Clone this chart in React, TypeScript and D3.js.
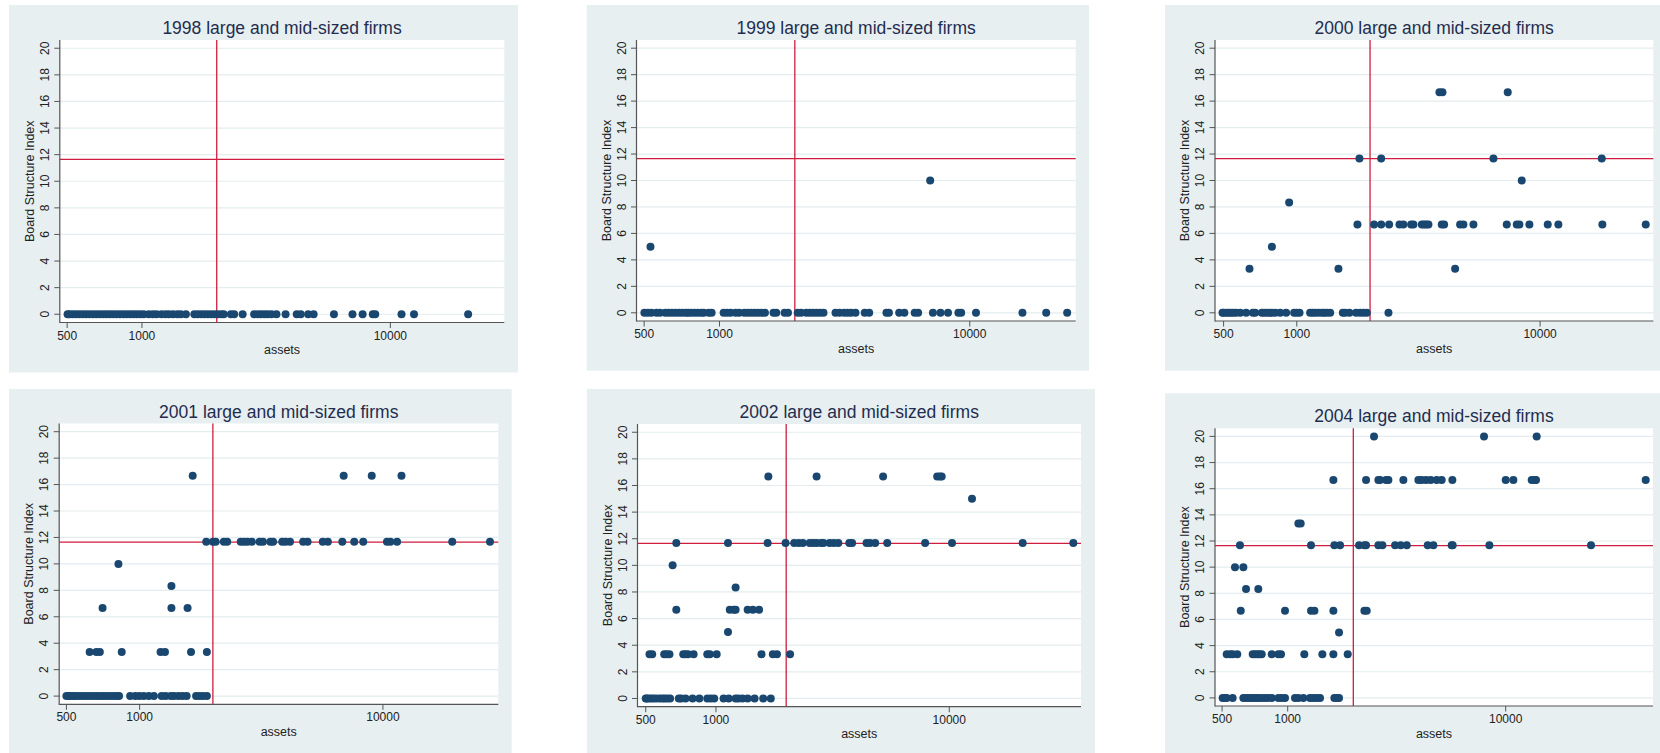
import * as d3 from "d3";

const FONT = "'Liberation Sans', Arial, Helvetica, sans-serif";
const BG = "#e7eff1";
const GRID = "#e3ecee";
const NAVY = "#1a476f";
const RED = "#cf1d3f";

// axis ticks and reference lines
const yTicks = [0, 2, 4, 6, 8, 10, 12, 14, 16, 18, 20];
const xTicks = [500, 1000, 10000];
const refAssets = 2000;
const refIndex = 11.65;

// data: [board structure index, assets of each firm at that level]
const firms1998: [number, number[]][] = [
  [0, [502, 510, 526, 543, 560, 578, 596, 615, 635, 655, 676, 698, 720, 743, 766, 791, 816, 842, 869, 896, 925, 954, 985, 1016, 1065, 1106, 1144, 1199, 1245, 1285, 1334, 1390, 1433, 1503, 1625, 1676, 1730, 1785, 1842, 1901, 1961, 2023, 2088, 2134, 2280, 2351, 2543, 2829, 2920, 3013, 3109, 3208, 3320, 3479, 3786, 4198, 4357, 4668, 4910, 5927, 7040, 7732, 8497, 8690, 11090, 12450, 20560]],
];

const firms1999: [number, number[]][] = [
  [0, [501, 517, 534, 560, 578, 607, 626, 646, 667, 689, 710, 733, 750, 769, 794, 819, 846, 865, 906, 930, 1039, 1072, 1107, 1160, 1198, 1256, 1297, 1338, 1381, 1426, 1472, 1519, 1644, 1686, 1820, 1878, 2053, 2118, 2222, 2293, 2366, 2442, 2522, 2603, 2908, 3020, 3147, 3248, 3353, 3494, 3804, 3964, 4645, 4753, 5224, 5479, 6025, 6218, 7124, 7638, 8186, 9006, 9240, 10588, 16235, 20200, 24500]],
  [5, [530]],
  [10, [6947]],
];

const firms2000: [number, number[]][] = [
  [0, [495, 500, 513, 524, 536, 549, 563, 585, 619, 660, 674, 718, 734, 753, 773, 790, 815, 854, 904, 975, 1000, 1026, 1134, 1163, 1190, 1227, 1267, 1295, 1328, 1371, 1546, 1580, 1646, 1753, 1820, 1879, 1940, 2381]],
  [3.33, [639, 1483, 4474]],
  [5, [790]],
  [6.67, [1775, 2078, 2222, 2396, 2642, 2742, 2951, 3016, 3265, 3337, 3401, 3476, 3943, 4032, 4690, 4840, 5321, 7295, 8017, 8222, 9037, 10752, 11890, 18030, 27180]],
  [8.33, [930]],
  [10, [8408]],
  [11.67, [1809, 2222, 6430, 17926]],
  [16.67, [3857, 3969, 7362]],
];

const firms2001: [number, number[]][] = [
  [0, [500, 509, 522, 536, 548, 566, 584, 603, 623, 643, 664, 686, 708, 731, 755, 779, 805, 823, 914, 959, 997, 1039, 1090, 1144, 1231, 1279, 1342, 1386, 1445, 1501, 1560, 1706, 1762, 1819, 1889]],
  [3.33, [623, 664, 686, 844, 1219, 1271, 1626, 1889]],
  [6.67, [704, 1351, 1574]],
  [8.33, [1351]],
  [10, [818]],
  [11.67, [1878, 2001, 2053, 2218, 2290, 2603, 2687, 2773, 2892, 3112, 3213, 3447, 3536, 3857, 3981, 4150, 4699, 4900, 5657, 5937, 6809, 7621, 8300, 10390, 10730, 11430, 19270, 27550]],
  [16.67, [1652, 6897, 8995, 11920]],
];

const firms2002: [number, number[]][] = [
  [0, [500, 505, 515, 528, 540, 555, 574, 590, 604, 619, 636, 693, 709, 741, 794, 849, 918, 950, 983, 1078, 1134, 1214, 1247, 1299, 1367, 1464, 1594, 1718]],
  [3.33, [519, 533, 600, 615, 632, 724, 741, 759, 802, 918, 941, 1007, 1567, 1753, 1826, 2078]],
  [5, [1126]],
  [6.67, [676, 1146, 1193, 1214, 1367, 1439, 1530]],
  [8.33, [1214]],
  [10, [652]],
  [11.67, [676, 1126, 1665, 1988, 2164, 2262, 2356, 2522, 2610, 2700, 2822, 2890, 3072, 3200, 3345, 3729, 3833, 4421, 4574, 4813, 5422, 7881, 10276, 20640, 34020]],
  [15, [12516]],
  [16.67, [1677, 2700, 5205, 8874, 9120, 9280]],
];

const firms2004: [number, number[]][] = [
  [0, [503, 516, 525, 559, 626, 644, 660, 677, 696, 716, 733, 760, 787, 815, 845, 906, 939, 972, 1080, 1119, 1180, 1266, 1311, 1358, 1407, 1637, 1678, 1720]],
  [3.33, [525, 544, 559, 587, 691, 708, 726, 741, 760, 845, 906, 932, 1192, 1442, 1620, 1885]],
  [5, [1720]],
  [6.67, [609, 972, 1279, 1326, 1620, 2248, 2304]],
  [8.33, [644, 733]],
  [10, [573, 626]],
  [11.67, [604, 1279, 1637, 1739, 2125, 2248, 2288, 2606, 2719, 3108, 3299, 3516, 4388, 4659, 5652, 5713, 8418, 24630]],
  [13.33, [1119, 1147]],
  [16.67, [1620, 2288, 2606, 2652, 2826, 2897, 3394, 3976, 4119, 4312, 4529, 4826, 5087, 5693, 10000, 10843, 13160, 13535, 13775, 43880]],
  [20, [2489, 7955, 13874]],
];

// layout of the six combined graphs
type PanelSpec = {
  year: string;
  data: [number, number[]][];
  bg: number[];
  plot: number[];
  xDomain: number[];
};

const panels: PanelSpec[] = [
  { year: "1998", data: firms1998, bg: [9, 5, 518, 372.5], plot: [59.8, 40, 504.3, 322.5], xDomain: [467, 28750] },
  { year: "1999", data: firms1999, bg: [586.7, 5, 1089, 370.7], plot: [636.5, 40, 1075.7, 321], xDomain: [466, 26500] },
  { year: "2000", data: firms2000, bg: [1165, 5, 1660, 370.7], plot: [1215, 40, 1653.3, 321], xDomain: [461, 29200] },
  { year: "2001", data: firms2001, bg: [9, 389, 511.7, 753], plot: [59.2, 423.5, 498.3, 704.3], xDomain: [467, 29800] },
  { year: "2002", data: firms2002, bg: [587, 389, 1095, 753], plot: [637.5, 424, 1081, 706.7], xDomain: [461, 36700] },
  { year: "2004", data: firms2004, bg: [1165, 393.3, 1660, 753], plot: [1215, 428.3, 1653, 706], xDomain: [464, 47400] },
];

const yDomain = [-0.62, 20.62];

function Panel({ p }: { p: PanelSpec }) {
  const [bx0, by0, bx1, by1] = p.bg;
  const [L, T, R, B] = p.plot;
  const x = d3.scaleLog().domain(p.xDomain).range([L, R]);
  const y = d3.scaleLinear().domain(yDomain).range([B, T]);
  const pts = p.data.flatMap(([lvl, arr]) => arr.map((a) => [a, lvl]));
  const cx = (L + R) / 2;
  const cy = (T + B) / 2;

  return (
    <g fontFamily={FONT}>
      <rect x={bx0} y={by0} width={bx1 - bx0} height={by1 - by0} fill={BG} />
      <rect x={L} y={T} width={R - L} height={B - T} fill="#fff" />

      {/* grid */}
      {yTicks.map((t) => (
        <line key={"g" + t} x1={L} x2={R} y1={y(t)} y2={y(t)} stroke={GRID} strokeWidth={1.2} />
      ))}

      {/* reference lines */}
      <line x1={x(refAssets)} x2={x(refAssets)} y1={T} y2={B} stroke={RED} strokeWidth={1.3} />
      <line x1={L} x2={R} y1={y(refIndex)} y2={y(refIndex)} stroke={RED} strokeWidth={1.3} />

      {/* points */}
      {pts.map(([a, v], i) => (
        <circle key={i} cx={x(a)} cy={y(v)} r={4} fill={NAVY} />
      ))}

      {/* axes */}
      <line x1={L} x2={L} y1={T} y2={B + 0.6} stroke="#555" strokeWidth={1.2} />
      <line x1={L} x2={R} y1={B} y2={B} stroke="#555" strokeWidth={1.2} />

      {yTicks.map((t) => (
        <g key={"y" + t}>
          <line x1={L - 5.5} x2={L} y1={y(t)} y2={y(t)} stroke="#555" strokeWidth={1} />
          <text
            transform={`translate(${L - 11},${y(t)}) rotate(-90)`}
            textAnchor="middle"
            fontSize={12}
            fill="#222"
          >
            {t}
          </text>
        </g>
      ))}

      {xTicks.map((t) => (
        <g key={"x" + t}>
          <line x1={x(t)} x2={x(t)} y1={B} y2={B + 5.5} stroke="#555" strokeWidth={1} />
          <text x={x(t)} y={B + 17} textAnchor="middle" fontSize={12} fill="#222">
            {t}
          </text>
        </g>
      ))}

      <text x={cx} y={B + 31.5} textAnchor="middle" fontSize={12.5} fill="#222">
        assets
      </text>
      <text
        transform={`translate(${L - 26},${cy}) rotate(-90)`}
        textAnchor="middle"
        fontSize={12.5}
        fill="#222"
      >
        Board Structure Index
      </text>
      <text x={cx} y={T - 6} textAnchor="middle" fontSize={17.5} fill="#1f2d4f">
        {p.year} large and mid-sized firms
      </text>
    </g>
  );
}

export default function App() {
  return (
    <svg
      width={1660}
      height={753}
      style={{ position: "absolute", left: 0, top: 0, display: "block", background: "#fff" }}
    >
      {panels.map((p) => (
        <Panel key={p.year} p={p} />
      ))}
    </svg>
  );
}
